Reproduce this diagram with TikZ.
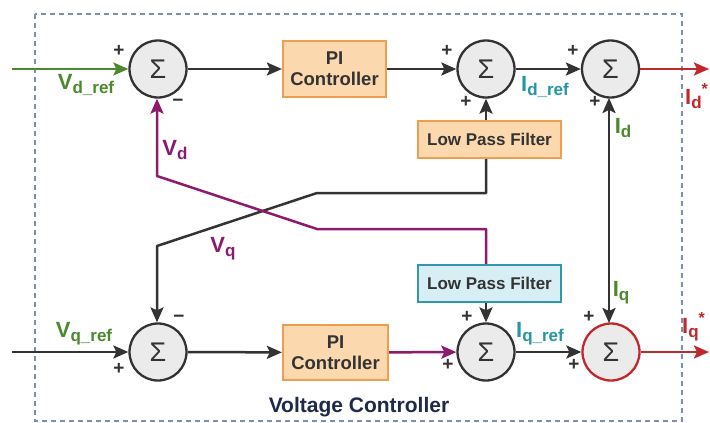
\documentclass[tikz,border=0pt]{standalone}
\usepackage{fontspec}
\setmainfont{Liberation Sans}
\usetikzlibrary{arrows.meta}
\definecolor{cgreen}{HTML}{4A8A2C}
\definecolor{cpurple}{HTML}{8E1A6E}
\definecolor{cteal}{HTML}{2496A8}
\definecolor{cred}{HTML}{C2282B}
\definecolor{cnavy}{HTML}{1E2A48}
\definecolor{cdash}{HTML}{7A90AE}
\definecolor{cdark}{HTML}{333333}
\definecolor{corangefill}{HTML}{FCD8AE}
\definecolor{corangeline}{HTML}{EE9E4E}
\definecolor{cbluefill}{HTML}{D6EEF4}
\definecolor{cblueline}{HTML}{2F98AA}
\definecolor{csumfill}{HTML}{EBEBEB}
\newcommand\sigl[2]{{\fontsize{22}{22}\selectfont #1}{\fontsize{17}{17}\selectfont\raisebox{-4pt}{#2}}}
\tikzset{
  tip/.tip={Stealth[length=15pt,width=13pt,inset=3pt]},
  sumnode/.style={circle,draw=cdark,fill=csumfill,line width=2.3pt,minimum size=57pt,inner sep=0pt,
    font=\fontsize{27}{27}\selectfont,text=cdark},
  pibox/.style={rectangle,draw=corangeline,fill=corangefill,line width=2.2pt,minimum width=103pt,minimum height=56pt,
    align=center,font=\bfseries\fontsize{18.5}{21}\selectfont,text=cdark},
  lpfbox/.style={rectangle,draw=corangeline,fill=corangefill,line width=2.2pt,minimum width=143pt,minimum height=37pt,
    font=\bfseries\fontsize{17}{17}\selectfont,text=cdark},
  wire/.style={line width=2.5pt,draw=cdark,-tip},
  sgn/.style={font=\bfseries\fontsize{19}{19}\selectfont,text=cdark,inner sep=0pt},
  lbl/.style={font=\bfseries,inner sep=0pt},
}
\begin{document}
\begin{tikzpicture}[x=1pt,y=-1pt]
\useasboundingbox (0,0) rectangle (710,423);
\fill[white] (0,0) rectangle (710,423);
% dashed frame
\draw[cdash,line width=1.8pt,dash pattern=on 5pt off 4pt] (35,14) rectangle (682,421);

% nodes
\node[sumnode] (s1) at (158,69) {Σ};
\node[pibox] (pi1) at (334.5,69) {PI\\Controller};
\node[sumnode] (s2) at (486,69) {Σ};
\node[sumnode] (s3) at (610.5,69) {Σ};
\node[lpfbox] (lpf1) at (489.5,139.5) {Low Pass Filter};
\node[sumnode] (s4) at (158,352) {Σ};
\node[pibox,minimum width=105pt,minimum height=55pt] (pi2) at (335.5,352.5) {PI\\Controller};
\node[sumnode] (s5) at (486,352) {Σ};
\node[sumnode,draw=cred] (s6) at (611,352) {Σ};
\node[lpfbox,draw=cblueline,fill=cbluefill] (lpf2) at (489.5,283.5) {Low Pass Filter};

\coordinate (in1) at (12,69);
\coordinate (in2) at (12,352);
\coordinate (out1) at (709,69);
\coordinate (out2) at (709,352);
\coordinate (b1) at (486,193);
\coordinate (b2) at (317,193);
\coordinate (b3) at (157,246);
\coordinate (p1) at (486,229);
\coordinate (p2) at (317,229);
\coordinate (p3) at (157,176);

% connectors top row
\draw[wire,draw=cgreen] (in1) -- (s1);
\draw[wire] (s1) -- (pi1);
\draw[wire] (pi1) -- (s2);
\draw[wire] (s2) -- (s3);
\draw[wire,draw=cred] (s3) -- (out1);
\draw[wire] (lpf1.north -| s2) -- (s2.south);

% cross feedback
\draw[wire,line join=round] (lpf1.south -| b1) -- (b1) -- (b2) -- (b3) -- (s4.north -| b3);
\draw[wire,draw=cpurple,line join=round] (lpf2.north -| p1) -- (p1) -- (p2) -- (p3) -- (s1.south -| p3);

% vertical current line
\draw[wire,tip-tip] (609,98) -- (609,323);

% bottom row
\draw[wire] (in2) -- (s4);
\draw[wire] (s4) -- (pi2);
\draw[wire,draw=cpurple] (pi2) -- (s5);
\draw[wire] (s5) -- (s6);
\draw[wire,draw=cred] (s6) -- (out2);
\draw[wire] (lpf2.south -| s5) -- (s5.north);

% signs
\node[sgn] (g1) at (119,51) {+};
\node[sgn] (g2) at (178,103) {\textminus};
\node[sgn] (g3) at (447,51) {+};
\node[sgn] (g4) at (466,102) {+};
\node[sgn] (g5) at (573,51) {+};
\node[sgn] (g6) at (595,102) {+};
\node[sgn] (g7) at (179,319) {\textminus};
\node[sgn] (g8) at (119,369) {+};
\node[sgn] (g9) at (467,317) {+};
\node[sgn] (g10) at (448,365) {+};
\node[sgn] (g11) at (589,317) {+};
\node[sgn] (g12) at (574,365) {+};

% labels
\node[lbl,text=cgreen] (l1) at (86,85) {\sigl{V}{d\_ref}};
\node[lbl,text=cpurple] (l2) at (175,150) {\sigl{V}{d}};
\node[lbl,text=cpurple] (l3) at (223,249) {\sigl{V}{q}};
\node[lbl,text=cgreen] (l4) at (84,334) {\sigl{V}{q\_ref}};
\node[lbl,text=cteal] (l5) at (545,87) {\sigl{I}{d\_ref}};
\node[lbl,text=cteal] (l6) at (540,334) {\sigl{I}{q\_ref}};
\node[lbl,text=cgreen] (l7) at (623,128) {\sigl{I}{d}};
\node[lbl,text=cgreen] (l8) at (621,293) {\sigl{I}{q}};
\node[lbl,text=cred,anchor=west] (l9) at (685,96) {\sigl{I}{d}\raisebox{10pt}{\fontsize{16}{16}\selectfont*}};
\node[lbl,text=cred,anchor=west] (l10) at (682,327) {\sigl{I}{q}\raisebox{10pt}{\fontsize{16}{16}\selectfont*}};

\node[font=\bfseries\fontsize{21}{21}\selectfont,text=cnavy] (title) at (359,407) {Voltage Controller};
\end{tikzpicture}
\end{document}
